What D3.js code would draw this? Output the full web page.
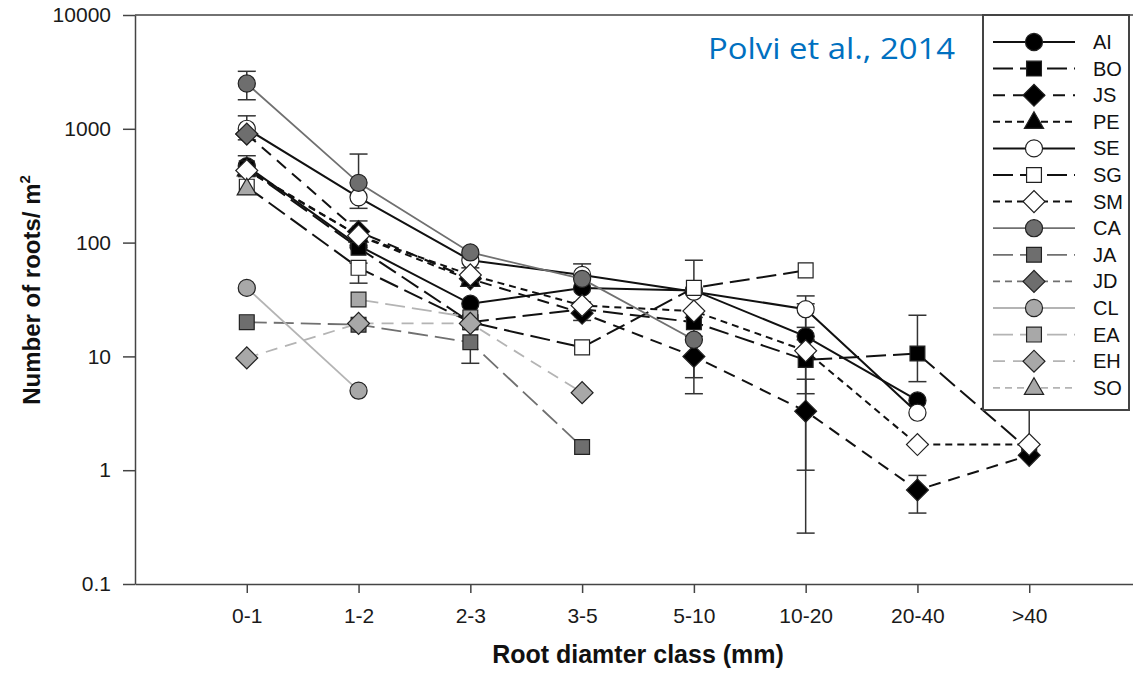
<!DOCTYPE html>
<html>
<head>
<meta charset="utf-8">
<script src="https://cdn.jsdelivr.net/npm/d3@7"></script>
<style>
  body { margin: 0; background: #fff; }
  text { font-family: "Liberation Sans", Arial, sans-serif; }
</style>
</head>
<body>
<div id="d3-graph"></div>

<script>
// categories and tick labels
const categories = ["0-1", "1-2", "2-3", "3-5", "5-10", "10-20", "20-40", ">40"];
const yTicks = [0.1, 1, 10, 100, 1000, 10000];
const yTickLabels = ["0.1", "1", "10", "100", "1000", "10000"];

// number of roots per m2, one value per diameter class (null = no data)
const seriesNames = ["AI", "BO", "JS", "PE", "SE", "SG", "SM", "CA", "JA", "JD", "CL", "EA", "EH", "SO"];
const AI = [470, 94, 29, 40, 38, 15, 4.1, null];
const BO = [450, 90, 20, 26, 20, 9.3, 10.6, 1.5];
const JS = [900, 125, 48, 24, 10, 3.3, 0.67, 1.35];
const PE = [440, 115, 47, null, null, null, null, null];
const SE = [1000, 250, 70, 52, 37, 26, 3.2, null];
const SG = [310, 60, 20, 12, 40, 57, null, null];
const SM = [430, 115, 52, 28, 25, 11.2, 1.68, 1.68];
const CA = [2500, 335, 82, 48, 14, null, null, null];
const JA = [20, 19, 13.3, 1.6, null, null, null, null];
const JD = [900, null, null, null, null, null, null, null];
const CL = [40, 5, null, null, null, null, null, null];
const EA = [null, 31.6, 22, null, null, null, null, null];
const EH = [9.7, 19.5, 19.5, 4.8, null, null, null, null];
const SO = [300, null, null, null, null, null, null, null];
const seriesValues = [AI, BO, JS, PE, SE, SG, SM, CA, JA, JD, CL, EA, EH, SO];

// error bars: [series, class, low, high]
const errorBars = [
  ["CA", "0-1", 1800, 3200], ["SE", "0-1", 800, 1300], ["AI", "0-1", 380, 580],
  ["CA", "1-2", 200, 600], ["SM", "1-2", 90, 155], ["SG", "1-2", 44, 66],
  ["SM", "2-3", 44, 60], ["JA", "2-3", 8.7, 19],
  ["SE", "3-5", 40, 65], ["JS", "3-5", 20.7, 30],
  ["SG", "5-10", 22, 70], ["JS", "5-10", 4.7, 15], ["BO", "5-10", 6.5, 25],
  ["SE", "10-20", 18, 34], ["AI", "10-20", 1.0, 29], ["BO", "10-20", 4.7, 14], ["JS", "10-20", 0.28, 6.3],
  ["BO", "20-40", 6, 23], ["JS", "20-40", 0.42, 0.9],
  ["SM", ">40", 1.68, 10]
];

// drawing styles per series
const black = "#111", dark = "#707070", light = "#b4b4b4";
const longDash = "20,7", midDash = "12,8", shortDash = "7,5";
const styles = {
  AI: {line: black, dash: null,      shape: "circle",   fill: "#000"},
  BO: {line: black, dash: longDash,  shape: "square",   fill: "#000"},
  JS: {line: black, dash: midDash,   shape: "diamond",  fill: "#000"},
  PE: {line: black, dash: shortDash, shape: "triangle", fill: "#000"},
  SE: {line: black, dash: null,      shape: "circle",   fill: "#fff"},
  SG: {line: black, dash: longDash,  shape: "square",   fill: "#fff"},
  SM: {line: black, dash: shortDash, shape: "diamond",  fill: "#fff"},
  CA: {line: dark,  dash: null,      shape: "circle",   fill: "#6e6e6e"},
  JA: {line: dark,  dash: longDash,  shape: "square",   fill: "#6e6e6e"},
  JD: {line: dark,  dash: shortDash, shape: "diamond",  fill: "#6e6e6e"},
  CL: {line: light, dash: null,      shape: "circle",   fill: "#a8a8a8"},
  EA: {line: light, dash: longDash,  shape: "square",   fill: "#a8a8a8"},
  EH: {line: light, dash: midDash,   shape: "diamond",  fill: "#a8a8a8"},
  SO: {line: light, dash: shortDash, shape: "triangle", fill: "#a8a8a8"}
};

const W = 1133, H = 674;
const mLeft = 135, mRight = 1141, mTop = 15, mBottom = 584;

const svg = d3.select("#d3-graph")
  .append("svg")
    .attr("width", W)
    .attr("height", H);

const x = d3.scalePoint()
  .domain(categories)
  .range([mLeft, mRight])
  .padding(1);

const y = d3.scaleLog()
  .domain([0.1, 10000])
  .range([mBottom, mTop]);

// frame (top and right border)
svg.append("path")
  .attr("d", `M${mLeft},${mTop}H${mRight}V${mBottom}`)
  .attr("fill", "none")
  .attr("stroke", "#444")
  .attr("stroke-width", 1.5);

// x axis
const xAxis = svg.append("g")
  .attr("transform", `translate(0,${mBottom})`)
  .call(d3.axisBottom(x).tickSize(9).tickSizeOuter(0).tickPadding(15));

// y axis
const yAxis = svg.append("g")
  .attr("transform", `translate(${mLeft},0)`)
  .call(d3.axisLeft(y).tickValues(yTicks).tickSize(12).tickSizeOuter(0).tickPadding(12)
    .tickFormat((d, i) => yTickLabels[i]));

[xAxis, yAxis].forEach(g => {
  g.select(".domain").attr("stroke", "#444").attr("stroke-width", 1.5);
  g.selectAll(".tick line").attr("stroke", "#444").attr("stroke-width", 1.5);
  g.selectAll(".tick text")
    .attr("fill", "#1a1a1a")
    .style("font-family", "'Liberation Sans', Arial, sans-serif")
    .style("font-size", "21px");
});

// axis titles
svg.append("text")
  .attr("x", 638)
  .attr("y", 663)
  .attr("text-anchor", "middle")
  .style("font-size", "25px")
  .style("font-weight", "bold")
  .attr("fill", "#111")
  .text("Root diamter class (mm)");

const yTitle = svg.append("text")
  .attr("transform", "translate(40,290) rotate(-90)")
  .attr("text-anchor", "middle")
  .style("font-size", "24px")
  .style("font-weight", "bold")
  .attr("fill", "#111");
yTitle.append("tspan").text("Number of roots/ m");
yTitle.append("tspan").attr("dy", -10).style("font-size", "15px").text("2");

// marker paths
function markerPath(shape) {
  if (shape === "circle") return d3.symbol(d3.symbolCircle, 230)();
  if (shape === "square") return d3.symbol(d3.symbolSquare, 220)();
  if (shape === "diamond") return d3.symbol(d3.symbolSquare, 240)();
  return d3.symbol(d3.symbolTriangle, 160)();
}
function markerTransform(shape, px, py) {
  if (shape === "diamond") return `translate(${px},${py}) rotate(45)`;
  if (shape === "triangle") return `translate(${px},${py + 1})`;
  return `translate(${px},${py})`;
}

// error bars
const eb = svg.append("g")
  .attr("stroke", "#333")
  .attr("stroke-width", 1.5)
  .attr("fill", "none");
errorBars.forEach(([s, c, lo, hi]) => {
  const px = x(c);
  eb.append("line").attr("x1", px).attr("x2", px).attr("y1", y(lo)).attr("y2", y(hi));
  eb.append("line").attr("x1", px - 9).attr("x2", px + 9).attr("y1", y(lo)).attr("y2", y(lo));
  eb.append("line").attr("x1", px - 9).attr("x2", px + 9).attr("y1", y(hi)).attr("y2", y(hi));
});

// series: line then markers, in legend order
const line = d3.line()
  .defined(d => d.v != null)
  .x(d => x(d.c))
  .y(d => y(d.v));

seriesNames.forEach((name, i) => {
  const st = styles[name];
  const pts = categories.map((c, j) => ({c: c, v: seriesValues[i][j]}));
  const g = svg.append("g");
  g.append("path")
    .datum(pts)
    .attr("fill", "none")
    .attr("stroke", st.line)
    .attr("stroke-width", st.line === black ? 2 : 1.8)
    .attr("stroke-dasharray", st.dash)
    .attr("d", line);
  g.selectAll(".pt")
    .data(pts.filter(d => d.v != null))
    .join("path")
      .attr("d", markerPath(st.shape))
      .attr("transform", d => markerTransform(st.shape, x(d.c), y(d.v)))
      .attr("fill", st.fill)
      .attr("stroke", "#222")
      .attr("stroke-width", 1.2);
});

// legend
const lg = svg.append("g");
lg.append("rect")
  .attr("x", 983).attr("y", mTop)
  .attr("width", 146).attr("height", 395)
  .attr("fill", "#fff")
  .attr("stroke", "#444")
  .attr("stroke-width", 2);
seriesNames.forEach((name, i) => {
  const st = styles[name];
  const ly = 42 + i * 26.6;
  lg.append("line")
    .attr("x1", 993).attr("x2", 1075)
    .attr("y1", ly).attr("y2", ly)
    .attr("stroke", st.line)
    .attr("stroke-width", st.line === black ? 2 : 1.8)
    .attr("stroke-dasharray", st.dash);
  lg.append("path")
    .attr("d", markerPath(st.shape))
    .attr("transform", markerTransform(st.shape, 1034, ly))
    .attr("fill", st.fill)
    .attr("stroke", "#222")
    .attr("stroke-width", 1.2);
  lg.append("text")
    .attr("x", 1093)
    .attr("y", ly + 7)
    .attr("fill", "#111")
    .style("font-size", "20px")
    .text(name);
});

// citation
svg.append("text")
  .attr("x", 708)
  .attr("y", 59)
  .attr("fill", "#0070c0")
  .attr("textLength", 247)
  .attr("lengthAdjust", "spacingAndGlyphs")
  .style("font-family", "'Open Sans', 'Noto Sans', sans-serif")
  .style("font-size", "30px")
  .text("Polvi et al., 2014");
</script>
</body>
</html>
